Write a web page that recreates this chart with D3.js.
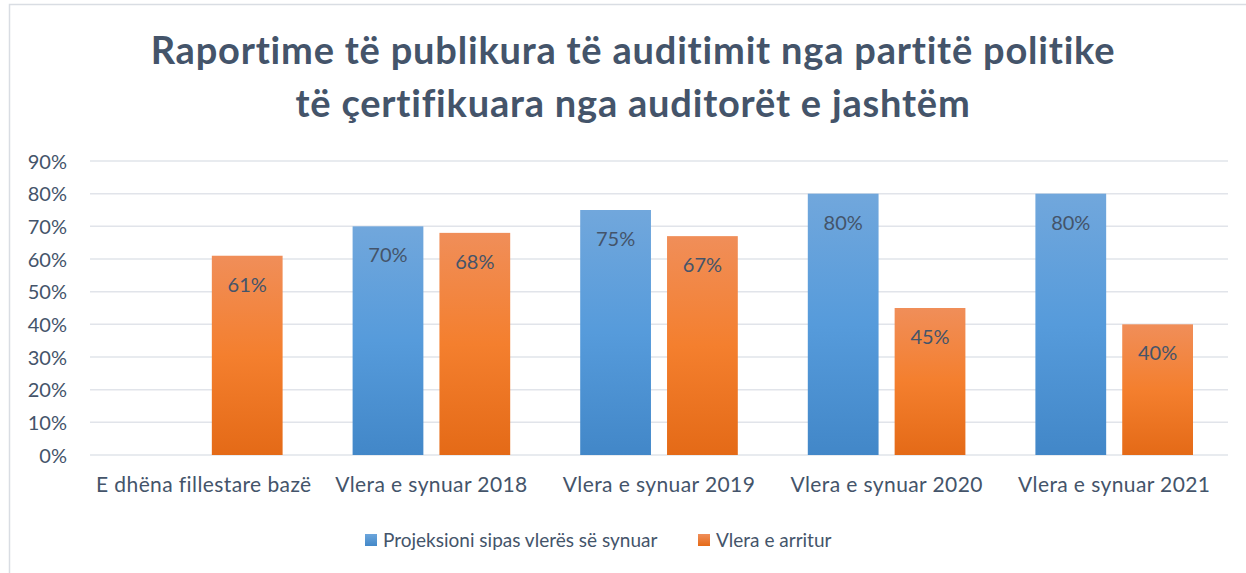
<!DOCTYPE html>
<html>
<head>
<meta charset="utf-8">
<script src="https://cdn.jsdelivr.net/npm/d3@7"></script>
<style>
  body { margin: 0; background: #fff; }
  svg text { font-family: Lato, "Open Sans", sans-serif; fill: #44546a; }
</style>
</head>
<body>
<div id="chart"></div>
<script>
const categories = ['E dhëna fillestare bazë', 'Vlera e synuar 2018', 'Vlera e synuar 2019', 'Vlera e synuar 2020', 'Vlera e synuar 2021'];
const seriesNames = ['Projeksioni sipas vlerës së synuar', 'Vlera e arritur'];
const projected = [null, 0.70, 0.75, 0.80, 0.80];
const achieved = [0.61, 0.68, 0.67, 0.45, 0.40];
const yTicks = [0, 0.1, 0.2, 0.3, 0.4, 0.5, 0.6, 0.7, 0.8, 0.9];
const titleLines = ['Raportime të publikura të auditimit nga partitë politike', 'të çertifikuara nga auditorët e jashtëm'];

const W = 1246, H = 573;
const margin = { top: 161, right: 18, bottom: 118, left: 90 };
const innerW = W - margin.left - margin.right;
const innerH = H - margin.top - margin.bottom;

const svg = d3.select('#chart').append('svg').attr('width', W).attr('height', H);

// chart frame (only left and top edges fall inside the picture)
svg.append('rect').attr('x', 9.5).attr('y', 4.5).attr('width', W + 20).attr('height', H + 20)
  .attr('fill', 'none').attr('stroke', '#d9dde3').attr('stroke-width', 1.5);

const defs = svg.append('defs');
const grads = [
  { id: 'gBlue', stops: ['#71a7dc', '#569bdb', '#4287c8'] },
  { id: 'gOrange', stops: ['#f08e59', '#f47f2e', '#e46a17'] },
];
grads.forEach(g => {
  const lg = defs.append('linearGradient').attr('id', g.id).attr('x1', 0).attr('y1', 0).attr('x2', 0).attr('y2', 1);
  g.stops.forEach((c, i) => lg.append('stop').attr('offset', i / (g.stops.length - 1)).attr('stop-color', c));
});

const title = svg.append('text').attr('text-anchor', 'middle')
  .style('font-size', '38px').style('font-weight', 'bold').style('letter-spacing', '0.8px');
titleLines.forEach((t, i) => {
  title.append('tspan').attr('x', 633).attr('y', 64 + i * 53).text(t);
});

const g = svg.append('g').attr('transform', `translate(${margin.left},${margin.top})`);

const x0 = d3.scaleBand().domain(categories).range([0, innerW]).paddingInner(0).paddingOuter(0);
const x1 = d3.scaleBand().domain([0, 1]).range([35, x0.bandwidth() - 35]).paddingInner(0.185);
const y = d3.scaleLinear().domain([0, 0.9]).range([innerH, 0]);

g.selectAll('.grid').data(yTicks).enter().append('line')
  .attr('x1', 0).attr('x2', innerW)
  .attr('y1', d => y(d)).attr('y2', d => y(d))
  .attr('stroke', '#e1e4ea').attr('stroke-width', 1.5);

const yAxis = g.append('g').call(d3.axisLeft(y).tickValues(yTicks).tickFormat(d3.format('.0%')).tickSize(0).tickPadding(23));
yAxis.select('.domain').remove();
yAxis.selectAll('text').style('font-size', '20px').attr('dy', '0.35em');

const xAxis = g.append('g').attr('transform', `translate(0,${innerH})`)
  .call(d3.axisBottom(x0).tickSize(0).tickPadding(22));
xAxis.select('.domain').remove();
xAxis.selectAll('text').style('font-size', '21px').style('letter-spacing', '0.4px');

const series = [projected, achieved];
const fills = ['url(#gBlue)', 'url(#gOrange)'];
const bars = [];
categories.forEach((c, ci) => {
  series.forEach((s, si) => {
    if (s[ci] != null) bars.push({ cat: c, si, v: s[ci] });
  });
});

const barG = g.selectAll('.bar').data(bars).enter().append('g');
barG.append('rect')
  .attr('x', d => x0(d.cat) + x1(d.si))
  .attr('y', d => y(d.v))
  .attr('width', x1.bandwidth())
  .attr('height', d => innerH - y(d.v))
  .attr('fill', d => fills[d.si]);
barG.append('text')
  .attr('x', d => x0(d.cat) + x1(d.si) + x1.bandwidth() / 2)
  .attr('y', d => y(d.v) + 36)
  .attr('text-anchor', 'middle')
  .style('font-size', '20px')
  .text(d => d3.format('.0%')(d.v));

// legend
const legendColors = [['#6ca6dc', '#4388c8'], ['#f08e59', '#e56a17']];
const legend = svg.append('g').attr('transform', 'translate(0,540)');
const legX = [365, 698];
seriesNames.forEach((n, i) => {
  const lg = defs.append('linearGradient').attr('id', 'lg' + i).attr('x1', 0).attr('y1', 0).attr('x2', 0).attr('y2', 1);
  lg.append('stop').attr('offset', 0).attr('stop-color', legendColors[i][0]);
  lg.append('stop').attr('offset', 1).attr('stop-color', legendColors[i][1]);
  legend.append('rect').attr('x', legX[i]).attr('y', -6).attr('width', 12).attr('height', 12).attr('fill', `url(#lg${i})`);
  legend.append('text').attr('x', legX[i] + 18).attr('y', 0).attr('dy', '0.35em')
    .style('font-size', '19px').text(n);
});
</script>
</body>
</html>
